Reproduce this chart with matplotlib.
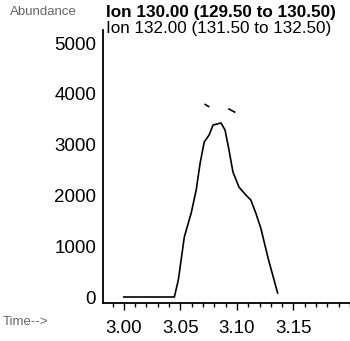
import matplotlib
matplotlib.use("Agg")
import matplotlib.pyplot as plt
from matplotlib.ticker import MultipleLocator
import numpy as np

plt.rcParams["font.family"] = ["Liberation Sans", "DejaVu Sans"]

# Extracted ion chromatogram, m/z 130
ion130_time = [3.000, 3.020, 3.040, 3.0447, 3.0482, 3.0535, 3.0596, 3.064, 3.0675,
               3.0711, 3.0754, 3.0789, 3.086, 3.0895, 3.093, 3.0965, 3.1018,
               3.1079, 3.1123, 3.1167, 3.1211, 3.128, 3.136]
ion130_abund = [0, 0, 0, 0, 335, 1181, 1654, 2106, 2638,
                3051, 3189, 3386, 3425, 3287, 2894, 2461, 2165,
                2008, 1909, 1654, 1358, 728, 79]

# Extracted ion chromatogram, m/z 132 (only fragments recorded)
ion132_time = [3.072, 3.075, np.nan, 3.093, 3.098]
ion132_abund = [3790, 3750, np.nan, 3700, 3640]

y_ticks = [0, 1000, 2000, 3000, 4000, 5000]
x_ticks = [3.00, 3.05, 3.10, 3.15]
x_ticklabels = ["3.00", "3.05", "3.10", "3.15"]

fig = plt.figure(figsize=(3.5, 3.41), dpi=100)
ax = fig.add_axes([103 / 350, 1 - 303 / 341, 1 - 103 / 350, (303 - 30) / 341])

ax.plot(ion130_time, ion130_abund, color="black", lw=1.2)
ax.plot(ion132_time, ion132_abund, color="black", lw=1.2)

ax.set_xlim(2.9816, 3.2)
ax.set_ylim(-118, 5256)

for s in ("top", "right"):
    ax.spines[s].set_visible(False)
for s in ("left", "bottom"):
    ax.spines[s].set_linewidth(1.3)

ax.set_xticks(x_ticks)
ax.set_xticklabels(x_ticklabels)
ax.xaxis.set_minor_locator(MultipleLocator(0.01))
ax.set_yticks(y_ticks)

ax.tick_params(axis="x", which="major", length=5, width=1, pad=7, labelsize=13.5)
ax.tick_params(axis="x", which="minor", length=3, width=1)
ax.tick_params(axis="y", which="major", length=0, pad=5, labelsize=13.5)

fig.text(10 / 350, 1 - 12 / 341, "Abundance", fontsize=9.5, color="#666666",
         ha="left", va="center")
fig.text(106 / 350, 1 - 12 / 341, "Ion 130.00 (129.50 to 130.50)", fontsize=12.3,
         fontweight="bold", ha="left", va="center")
fig.text(106 / 350, 1 - 28 / 341, "Ion 132.00 (131.50 to 132.50)", fontsize=12.3,
         ha="left", va="center")
fig.text(3 / 350, 1 - 322 / 341, "Time-->", fontsize=9.5, color="#666666",
         ha="left", va="center")

fig.savefig("out.png", dpi=100)
